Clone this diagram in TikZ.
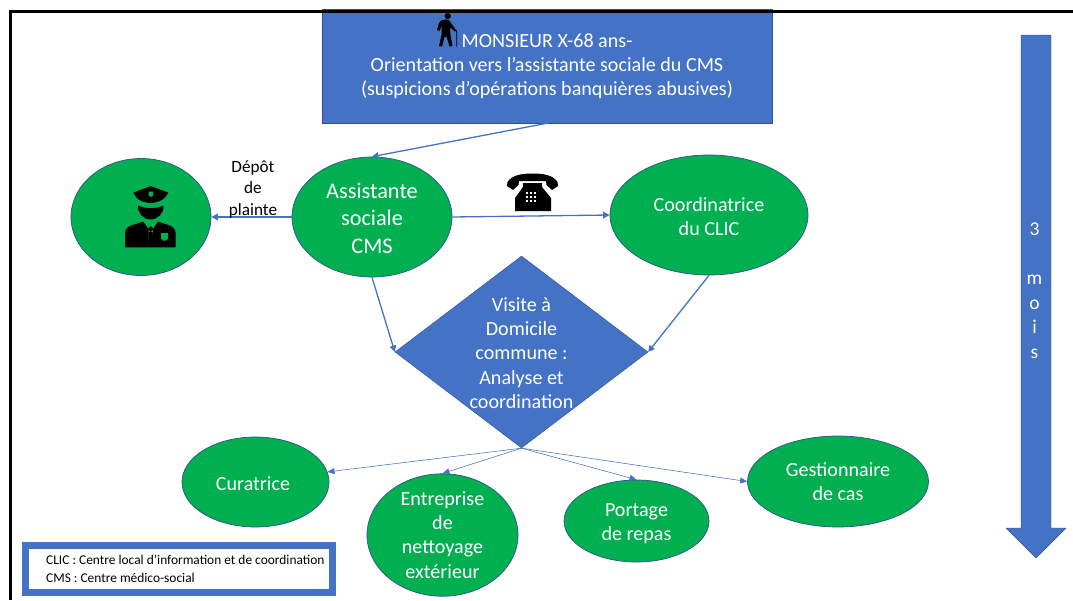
\documentclass[tikz,border=0pt]{standalone}
\usepackage{fontspec}
\setmainfont{Carlito}
\usetikzlibrary{arrows.meta,shapes.geometric}
\definecolor{bl}{HTML}{4472C4}
\definecolor{bd}{HTML}{2F528F}
\definecolor{gr}{HTML}{00B050}
\tikzset{
  oval/.style={ellipse,draw=bd,line width=.7pt,fill=gr,text=white,inner sep=0pt,align=center},
  lnk/.style={draw=bl,line width=1.3pt,-{Triangle[length=6.5pt,width=6.5pt]}},
  fan/.style={draw=bl,line width=.55pt,-{Triangle[length=7pt,width=6pt]}},
  lab/.style={inner sep=0pt,align=center}
}
\newcommand{\fs}[2]{\fontsize{#1}{#2}\selectfont}
\newcommand{\up}[1]{\rule{0pt}{#1pt}}
\begin{document}
\begin{tikzpicture}[x=1pt,y=-1pt]
\useasboundingbox (0,0) rectangle (1073,600);
\fill[white] (0,0) rectangle (1073,600);
% top box
\node[draw=bd,line width=.5pt,fill=bl,minimum width=450pt,minimum height=114pt,inner sep=0pt] (top) at (547,66) {};
% frame
\coordinate (fa) at (1073,11.5);
\coordinate (fb) at (10.5,11.5);
\coordinate (fc) at (10.5,600);
\draw[black,line width=2.6pt] (fa) -- (fb) -- (fc);
\node[lab,text=white,font=\fs{20.1}{23.8}] (toptext) at (547,66.5) {MONSIEUR X-68 ans-\\Orientation vers l’assistante sociale du CMS\\(suspicions d’opérations banquières abusives)};
% ellipses
\node[oval,minimum width=140pt,minimum height=117pt] (pol) at (141,217) {};
\node[oval,minimum width=160pt,minimum height=120pt,font=\fs{22.3}{27.5}] (as) at (372,217) {\up{18}Assistante\\sociale\\CMS};
\node[oval,minimum width=198pt,minimum height=120pt,font=\fs{20.1}{23.5}] (co) at (709,215) {\up{17}Coordinatrice\\du CLIC};
\node[diamond,fill=bl,draw=bd,line width=.4pt,minimum width=253pt,minimum height=192pt,inner sep=0pt] (vis) at (521.5,352) {};
\node[lab,text=white,font=\fs{20.1}{24.2}] (vistext) at (521.5,353) {Visite à\\Domicile\\commune :\\Analyse et\\coordination};
\node[oval,minimum width=147pt,minimum height=90pt,font=\fs{20.1}{23}] (cur) at (255.5,482) {\up{17}Curatrice\hspace{5pt}};
\node[oval,minimum width=151pt,minimum height=108pt,font=\fs{20.1}{24.2}] (ent) at (442.5,535) {Entreprise\\de\\nettoyage\\extérieur};
\node[oval,minimum width=145pt,minimum height=82pt,font=\fs{20.1}{24}] (por) at (636.5,521) {\up{18}Portage\\de repas};
\node[oval,minimum width=181pt,minimum height=91pt,font=\fs{20.1}{24.2}] (ges) at (838,481.5) {\up{14}Gestionnaire\\de cas};
% connectors
\draw[lnk] (top.south) -- (as.north);
\draw[lnk] (as.west) -- (pol.east);
\draw[lnk] (as.east) -- (co.west);
\draw[lnk] (as.south) -- (vis.west);
\draw[lnk] (co.south) -- (vis.east);
\draw[fan] (vis.south) -- (cur.8);
\draw[fan] (vis.south) -- (ent.north);
\draw[fan] (vis.south) -- (por.north);
\draw[fan] (vis.south) -- (ges.west);
% label
\node[lab,text=black,font=\fs{17.2}{21.5}] (depot) at (253,189.5) {Dépôt\\de\\plainte};
% time arrow
\fill[bl,draw=bd,line width=.4pt] (1021,35) -- (1051,35) -- (1051,528) -- (1066,528) -- (1036,558) -- (1006,528) -- (1021,528) -- cycle;
\node[lab,text=white,font=\fs{19.5}{24.5}] (mois) at (1034.5,290.5) {3\\\strut\\m\\o\\i\\s};
% legend
\node[draw=bl,line width=7pt,fill=white,minimum width=307pt,minimum height=47pt,inner sep=0pt] (leg) at (179,569) {};
\node[lab,anchor=west,align=left,text=black,font=\fs{13.4}{17.5}] (legt) at (46,569) {CLIC : Centre local d’information et de coordination\\CMS : Centre médico-social};
% walker icon
\fill[black] (447.7,16) circle (3.1);
\fill[black] (445,19.5) .. controls (448,19) and (450,20) .. (451,23) -- (456,30) -- (455,31.5) -- (450,27.5) -- (450.5,35) -- (452.5,46) -- (449.5,46.5) -- (446.5,36.5) -- (444.5,37) -- (442,46.5) -- (439,46) -- (441.5,35) -- (441.5,26) -- (439.5,31) -- (437,30) -- (439,23) .. controls (440,21) and (442,19.8) .. (445,19.5) -- cycle;
\draw[black,line width=.9pt] (454.5,31) .. controls (455.5,29.5) and (456.7,30) .. (456.7,32) -- (456.7,46.5);
% police icon
\fill[black] (150.7,186) -- (168.3,192.7) -- (165,197.5) .. controls (162,201) and (155,203) .. (150.7,203) .. controls (146,203) and (139,201) .. (136.5,197.5) -- (133.3,192.7) -- cycle;
\fill[black] (138,205.5) .. controls (145,209) and (157,209) .. (163.5,205.5) .. controls (164,213) and (158,219.5) .. (150.7,219.5) .. controls (143,219.5) and (137.5,213) .. (138,205.5) -- cycle;
\fill[black] (125,247.3) -- (125,233) .. controls (125,228) and (130,225) .. (136,224) -- (143,221.5) -- (148.5,229) -- (148.5,247.3) -- cycle;
\fill[black] (175.7,247.3) -- (175.7,233) .. controls (175.7,228) and (171,225) .. (165,224) -- (158,221.5) -- (153,229) -- (153,247.3) -- cycle;
\fill[black] (148.7,232) -- (152.7,232) -- (153,247.3) -- (148.3,247.3) -- cycle;
\fill[black] (150.7,226) -- (153.5,229) -- (150.7,232) -- (148,229) -- cycle;
\fill[gr] (161,233) -- (168,233) -- (168,239) -- (164.5,241) -- (161,239) -- cycle;
\fill[gr] (148.7,191.5) -- (153,191.5) -- (153,195.5) -- (150.8,197) -- (148.7,195.5) -- cycle;
% phone icon
\fill[black] (507.5,182) .. controls (512,175) and (522,173.5) .. (532.5,173.5) .. controls (543,173.5) and (553,175) .. (557.5,182) -- (558,186) -- (552,190) -- (546.5,185) -- (546,181) -- (519,181) -- (518.5,185) -- (513,190) -- (507,186) -- cycle;
\fill[black] (523,183) -- (542,183) -- (542,187) -- (551,198) -- (551,211) -- (515,211) -- (515,198) -- (523,187) -- cycle;
\foreach \i in {0,1,2}{\foreach \j in {0,1,2}{
  \fill[white] ({527+\i*4-1},{193+\j*4-1}) rectangle ++(2.2,2.2);
}}
\end{tikzpicture}
\end{document}
